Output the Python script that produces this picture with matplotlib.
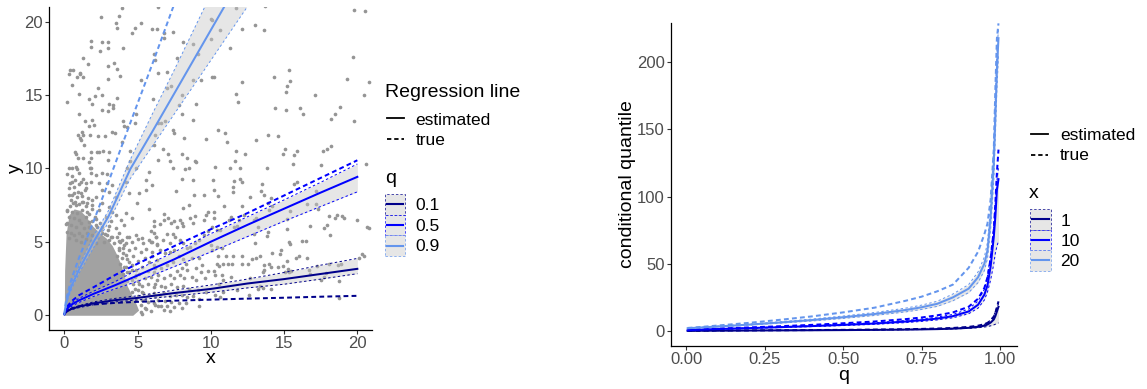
import matplotlib
matplotlib.use("Agg")
import matplotlib.pyplot as plt
from matplotlib.lines import Line2D
from matplotlib.patches import Rectangle

plt.rcParams["font.family"] = ["Liberation Sans", "DejaVu Sans"]

W, H = 1147, 389

# ---------------- left panel: scatter ----------------
# dense cloud near the origin (outline of the solid grey area)
cloud_x = [0.03, 4.7, 5.1, 4.9, 4.6, 4.3, 4.1, 3.9, 3.6, 3.3, 2.9, 2.4, 1.9, 1.5, 1.1, 0.7, 0.35, 0.15, 0.05]
cloud_y = [-0.05, -0.05, 0.3, 0.8, 1.4, 2.0, 2.7, 3.4, 4.1, 4.7, 5.2, 5.6, 6.1, 6.7, 7.1, 7.2, 6.8, 5.5, 3.0]

points_fringe = [
    (5.3, 0.1), (5.6, 0.4), (5.2, 0.7), (5.5, 1.0), (5.0, 1.3), (5.3, 1.6), (4.8, 1.8), (5.1, 2.1), (4.6, 2.4),
    (4.9, 2.7), (4.3, 2.9), (4.6, 3.1), (4.1, 3.3), (4.4, 3.6), (3.9, 3.9), (4.2, 4.1), (3.7, 4.4), (4.0, 4.6),
    (3.4, 4.9), (3.8, 5.0), (3.2, 5.3), (2.8, 5.5), (3.0, 5.8), (2.5, 5.8), (2.2, 6.0), (2.4, 6.3), (1.9, 6.4),
    (2.1, 6.7), (1.7, 6.9), (1.9, 7.2), (1.5, 7.4), (1.3, 7.7), (1.0, 7.6), (0.7, 7.7), (0.4, 7.4), (0.2, 7.1),
    (0.1, 6.2), (1.6, 8.0), (1.2, 8.1), (0.9, 8.4), (0.5, 8.2), (1.4, 8.5), (1.0, 8.9), (0.7, 9.2), (1.3, 9.3),
    (0.4, 9.0),
]

points_top_left = [
    (3.9, 20.9), (6.4, 21.0), (2.5, 20.3), (3.7, 20.4), (3.5, 19.9), (3.6, 19.6), (5.2, 19.9), (4.8, 19.6),
    (4.6, 19.2), (6.0, 19.5), (6.3, 19.5), (7.4, 19.3), (1.8, 18.7), (2.6, 18.6), (3.0, 18.6), (1.8, 18.3),
    (2.4, 18.0), (3.0, 18.2), (4.0, 18.2), (6.8, 19.2), (6.8, 18.9), (6.1, 17.8), (6.2, 17.4), (7.7, 17.5),
    (8.1, 18.6), (8.8, 18.5), (9.1, 17.8), (10.0, 20.2), (1.3, 17.5), (1.6, 17.1), (3.0, 17.0), (3.4, 17.2),
    (3.6, 16.8), (0.35, 16.7), (0.6, 16.7), (0.3, 16.4), (1.05, 16.5), (1.1, 16.4), (0.85, 16.2), (1.3, 16.2),
    (3.8, 16.3), (3.0, 16.1), (6.4, 16.5), (7.0, 16.6), (0.5, 15.7), (2.3, 15.5), (1.0, 15.1), (2.6, 15.0),
    (2.1, 14.9), (1.7, 14.7), (0.2, 14.5), (1.9, 14.4), (3.6, 14.8), (3.05, 14.4), (3.3, 14.3), (3.35, 14.1),
    (3.0, 13.9), (2.6, 13.95), (5.2, 16.0), (7.0, 15.5), (7.3, 15.6), (8.05, 15.0), (8.8, 16.0), (9.3, 16.0),
    (10.1, 16.2), (6.05, 14.7), (9.0, 14.4), (1.0, 13.7), (1.4, 13.2), (1.9, 13.3), (2.0, 12.95), (1.7, 12.9),
    (4.0, 13.2), (4.1, 12.9), (4.9, 13.7), (4.8, 13.1), (3.25, 12.5), (3.45, 12.4), (4.3, 12.8), (6.9, 13.2),
    (6.6, 13.1), (6.4, 13.1), (7.4, 12.6), (7.45, 12.4), (0.9, 12.3), (1.2, 12.45), (1.3, 12.3), (1.05, 12.05),
    (1.15, 11.9), (1.75, 12.25), (2.3, 12.2), (2.8, 12.2), (3.9, 11.8), (6.2, 12.3), (8.15, 12.05), (9.7, 12.0),
    (8.8, 13.3), (7.85, 14.3), (8.05, 13.7), (1.35, 11.6), (0.7, 11.1), (0.8, 11.0), (1.85, 11.1), (2.2, 11.1),
    (2.35, 11.1), (2.65, 11.2), (3.05, 11.1), (4.5, 11.2), (6.1, 11.6), (6.75, 11.3), (7.1, 10.95), (8.05, 11.0),
    (8.35, 10.7), (0.9, 10.7), (1.3, 10.7), (1.8, 10.7), (1.65, 10.4), (3.0, 10.6), (4.45, 10.5), (6.4, 10.6),
    (7.2, 10.5), (8.9, 10.5), (9.0, 10.45), (0.55, 10.0), (0.8, 10.1), (0.85, 9.95), (1.75, 10.0), (4.3, 10.0),
    (4.9, 10.05), (7.4, 10.05), (8.5, 10.05),
]

points_top_right = [
    (11.7, 20.95), (13.7, 21.05), (19.8, 20.8), (20.5, 20.7), (10.1, 20.1), (10.6, 19.4), (12.1, 19.5),
    (13.0, 19.8), (13.6, 19.4), (10.0, 18.8), (11.3, 18.2), (19.7, 17.6), (10.2, 16.2), (12.1, 15.9),
    (14.3, 16.2), (15.3, 16.7), (15.4, 15.95), (15.2, 15.6), (15.1, 15.2), (11.7, 15.1), (11.85, 14.5),
    (17.1, 15.0), (19.3, 16.1), (20.8, 15.9), (20.45, 15.0), (14.4, 14.1), (15.1, 13.95), (16.1, 14.1),
    (16.3, 13.7), (18.8, 14.2), (18.45, 13.7), (18.2, 13.35), (19.8, 13.25), (10.5, 12.6), (10.95, 12.4),
    (11.1, 11.8), (13.9, 12.3), (14.6, 12.2), (13.05, 11.9), (11.7, 11.2), (12.3, 10.95), (15.05, 11.3),
    (14.95, 10.95), (15.85, 11.2), (15.7, 10.9), (18.2, 11.5), (17.9, 11.35), (17.65, 11.2), (11.65, 10.5),
    (11.3, 10.05), (12.0, 10.0), (10.3, 10.1), (13.8, 10.0), (15.6, 10.3), (17.5, 10.25), (20.6, 10.3),
]

points_bottom_right = [
    (10.15, 9.2), (10.2, 8.5), (11.55, 9.15), (12.0, 9.25), (12.15, 9.05), (11.5, 8.7), (11.5, 8.4), (10.5, 8.1),
    (13.5, 8.9), (13.4, 8.45), (13.6, 8.2), (12.65, 8.05), (10.9, 7.45), (12.1, 7.4), (14.1, 7.95), (13.9, 7.65),
    (14.15, 7.4), (15.7, 8.9), (15.85, 9.1), (17.2, 8.45), (14.0, 7.15), (10.2, 7.05), (10.2, 6.6), (12.25, 6.8),
    (11.4, 6.65), (11.25, 6.5), (11.95, 6.45), (11.6, 6.0), (11.8, 6.05), (12.95, 6.45), (13.1, 6.6), (13.25, 6.0),
    (15.4, 7.1), (15.2, 6.55), (16.55, 7.55), (17.2, 7.55), (17.3, 7.2), (18.05, 6.75), (18.6, 6.8), (18.5, 6.6),
    (18.95, 6.75), (19.1, 6.6), (20.0, 6.5), (17.95, 6.15), (17.75, 5.9), (16.75, 6.05), (15.2, 5.85), (18.1, 5.45),
    (13.9, 5.65), (12.95, 5.5), (13.85, 5.4), (13.0, 4.9), (15.35, 4.95), (15.4, 4.85), (16.25, 5.05), (16.5, 5.05),
    (10.1, 6.0), (10.4, 5.8), (10.65, 5.8), (10.0, 4.75), (10.45, 4.65), (10.75, 4.6), (10.05, 4.4), (10.5, 4.05),
    (11.0, 4.0), (11.5, 4.0), (10.45, 3.5), (10.55, 3.35), (10.2, 3.0), (10.25, 2.7), (10.8, 3.5), (11.2, 3.5),
    (11.45, 3.5), (12.15, 4.0), (12.1, 3.45), (12.55, 3.5), (12.8, 3.85), (13.05, 3.9), (13.35, 4.0), (14.2, 4.2),
    (14.75, 4.15), (14.8, 4.4), (15.2, 3.7), (15.8, 3.9), (16.0, 4.05), (16.55, 3.9), (13.6, 3.4), (13.65, 3.1),
    (13.55, 2.95), (14.0, 3.5), (14.1, 3.3), (14.6, 3.3), (14.95, 3.35), (15.25, 3.15), (15.35, 2.9), (15.5, 3.0),
    (15.05, 2.95), (16.7, 3.05), (16.75, 2.8), (17.25, 3.35), (18.05, 3.45), (18.7, 3.4), (18.9, 3.5), (17.55, 2.4),
    (17.75, 2.6), (17.85, 2.85), (18.75, 2.3), (12.65, 2.5), (10.75, 2.7), (11.4, 2.6), (10.85, 2.4), (10.55, 2.15),
    (11.75, 1.7), (10.25, 1.35), (10.6, 1.25), (13.25, 1.8), (13.35, 2.0), (13.55, 1.85), (14.1, 1.75), (18.75, 1.15),
    (20.3, 4.15), (20.45, 4.05), (20.1, 3.9), (20.65, 6.0), (20.8, 5.95), (12.6, 1.4), (10.85, 1.55),
]

points_mid_left = [
    (0.32, 10.0), (1.8, 10.0), (0.21, 9.61), (0.55, 9.48), (1.01, 9.66), (1.8, 9.7), (2.14, 9.55), (2.6, 9.66),
    (2.94, 9.61), (5.78, 9.77), (0.55, 9.09), (1.12, 9.09), (1.46, 8.98), (1.8, 9.09), (2.37, 8.98), (2.94, 8.98),
    (3.28, 8.86), (4.19, 9.09), (5.55, 9.2), (6.0, 8.86), (0.32, 8.64), (0.66, 8.75), (1.46, 8.64), (2.6, 8.52),
    (3.05, 8.41), (5.55, 8.52), (0.32, 8.18), (0.66, 8.3), (0.89, 8.07), (1.12, 8.3), (1.91, 7.84), (2.14, 8.07),
    (3.51, 8.07), (4.41, 8.3), (5.1, 8.3), (0.44, 7.84), (0.6, 7.61), (0.78, 7.5), (1.23, 7.73), (1.57, 7.61),
    (1.91, 7.5), (2.6, 7.66), (3.05, 7.39), (4.98, 7.61), (5.78, 7.2), (0.21, 7.16), (0.55, 7.05), (0.89, 6.93),
    (1.23, 7.16), (1.57, 7.05), (2.37, 7.16), (3.28, 7.05), (3.51, 6.82), (4.19, 6.93), (4.64, 6.59), (0.32, 6.7),
    (0.66, 6.59), (1.01, 6.48), (1.46, 6.7), (1.69, 6.36), (2.14, 6.52), (2.82, 6.7), (3.16, 6.43), (3.85, 6.48),
    (0.21, 6.25), (0.44, 6.14), (0.78, 6.02), (1.12, 6.25), (1.35, 5.91), (1.69, 6.02), (2.14, 6.14), (2.6, 6.02),
    (3.05, 6.07), (3.51, 5.91), (4.07, 6.14), (0.21, 5.68), (0.44, 5.57), (0.66, 5.45), (1.01, 5.61), (1.23, 5.39),
    (1.57, 5.57), (1.91, 5.45), (2.26, 5.34), (2.6, 5.57), (2.94, 5.45), (3.28, 5.3), (3.73, 5.57), (4.41, 5.34),
    (4.87, 5.45), (5.32, 5.23), (5.78, 5.11), (6.23, 5.3), (0.32, 5.23), (0.78, 5.11), (1.12, 5.0), (1.46, 5.16),
    (1.8, 5.07), (2.14, 4.93), (2.71, 5.0), (3.05, 5.11), (3.73, 5.07), (4.19, 4.93),
    (8.25, 9.95), (8.0, 9.3), (8.8, 9.2), (8.85, 8.2), (9.5, 8.15), (7.65, 8.45),
]

points_mid_bottom = [
    (8.1, 7.3), (8.5, 7.5), (6.8, 6.9), (6.1, 6.4), (6.1, 6.1), (6.5, 6.2), (6.8, 6.5), (7.1, 6.6), (7.3, 6.3),
    (7.5, 6.4), (7.9, 6.5), (8.0, 6.3), (7.7, 6.0), (8.1, 6.1), (8.6, 6.6), (8.9, 6.75), (8.8, 6.3), (9.5, 6.5),
    (9.7, 6.8), (9.8, 7.0), (5.9, 5.7), (6.1, 5.6), (6.25, 5.3), (5.95, 5.0), (6.3, 4.8), (6.75, 5.1), (7.0, 5.5),
    (7.4, 5.5), (7.55, 5.3), (7.2, 4.9), (7.9, 5.1), (8.1, 4.9), (8.35, 4.55), (8.6, 4.65), (8.9, 4.9), (9.2, 5.1),
    (9.5, 5.45), (9.8, 5.7), (6.5, 4.4), (6.9, 4.2), (7.2, 4.3), (7.5, 4.4), (7.8, 4.0), (8.1, 3.8), (8.3, 3.5),
    (8.0, 3.2), (8.7, 3.9), (9.2, 3.9), (9.4, 3.4), (6.0, 4.0), (6.3, 3.75), (6.1, 3.4), (6.6, 3.2), (7.0, 3.4),
    (7.4, 3.6), (7.7, 3.0), (8.4, 3.1), (9.0, 3.2), (9.3, 2.9), (9.8, 3.0), (6.1, 2.9), (6.4, 2.7), (6.8, 2.5),
    (7.2, 2.7), (7.5, 2.5), (7.9, 2.7), (8.2, 2.5), (8.7, 2.6), (9.0, 2.4), (9.6, 2.5), (6.2, 2.1), (6.6, 2.0),
    (6.9, 1.9), (7.3, 2.1), (7.7, 1.9), (8.1, 2.0), (8.5, 1.8), (9.1, 1.7), (9.7, 1.6), (6.1, 1.5), (6.5, 1.4),
    (6.8, 1.5), (7.2, 1.3), (7.6, 1.4), (8.0, 1.35), (8.4, 1.2), (8.8, 1.3), (9.2, 1.1), (6.4, 1.0), (6.9, 0.95),
    (7.3, 0.9), (7.8, 0.85), (8.3, 0.8), (9.2, 0.6), (6.6, 0.6), (7.0, 0.65), (7.5, 0.55), (8.0, 0.5), (6.2, 0.7),
    (3.6, 5.3), (3.9, 5.1), (4.3, 5.35), (4.6, 5.0), (5.0, 5.2), (5.4, 4.9), (5.9, 5.0), (6.3, 4.85), (3.7, 4.6),
    (4.1, 4.8), (4.4, 4.4), (4.8, 4.6), (5.2, 4.3), (5.6, 4.5), (6.0, 4.3), (3.6, 4.0), (4.0, 4.2), (4.3, 3.8),
    (4.7, 4.0), (5.0, 3.7), (5.5, 3.9), (5.8, 3.6), (3.8, 3.5), (4.2, 3.3), (4.6, 3.4), (4.9, 3.1), (5.3, 3.3),
    (5.7, 3.0), (6.2, 3.2), (4.0, 2.8), (4.4, 2.9), (4.8, 2.6), (5.1, 2.8), (5.5, 2.5), (5.9, 2.6), (6.3, 2.4),
    (4.3, 2.3), (4.7, 2.1), (5.0, 2.3), (5.3, 2.0), (5.7, 2.1), (6.1, 1.9), (4.6, 1.6), (5.0, 1.7), (5.4, 1.5),
    (5.8, 1.4), (6.2, 1.3), (4.9, 1.1), (5.3, 1.0), (5.7, 0.9), (6.1, 0.8), (5.5, 0.5), (5.9, 0.3), (6.4, 0.6),
    (6.8, 0.35), (7.2, 0.3), (5.2, 0.2),
]

# ---------------- left panel: regression lines ----------------
q_labels = ["0.1", "0.5", "0.9"]
q_colors = ["#00008B", "#0000FF", "#6495ED"]

x_grid = [0, 0.1, 0.25, 0.5, 1, 2, 3.5, 5, 7.5, 10, 12.5, 15, 17.5, 20]
est_q10 = [0.05, 0.2, 0.3, 0.42, 0.57, 0.8, 1.02, 1.17, 1.5, 1.78, 2.15, 2.45, 2.8, 3.15]
true_q10 = [0.05, 0.2, 0.3, 0.45, 0.6, 0.72, 0.83, 0.9, 0.98, 1.05, 1.12, 1.18, 1.25, 1.31]
lo_q10 = [0.05, 0.17, 0.26, 0.37, 0.5, 0.7, 0.9, 1.03, 1.3, 1.55, 1.85, 2.1, 2.45, 2.82]
hi_q10 = [0.05, 0.23, 0.34, 0.47, 0.64, 0.9, 1.14, 1.31, 1.7, 2.05, 2.45, 2.9, 3.4, 3.86]

est_q50 = [0.05, 0.3, 0.5, 0.72, 1.0, 1.45, 2.05, 2.7, 3.8, 5.0, 6.15, 7.25, 8.35, 9.42]
true_q50 = [0.05, 0.4, 0.65, 0.95, 1.35, 1.9, 2.75, 3.5, 4.7, 5.85, 6.95, 8.15, 9.35, 10.55]
lo_q50 = [0.05, 0.25, 0.42, 0.6, 0.86, 1.27, 1.8, 2.3, 3.3, 4.3, 5.35, 6.4, 7.4, 8.4]
hi_q50 = [0.05, 0.35, 0.58, 0.84, 1.14, 1.63, 2.3, 3.1, 4.3, 5.55, 6.7, 7.85, 9.05, 10.3]

x_grid_q90 = [0, 0.1, 0.25, 0.5, 1, 2, 3, 4.5, 6, 7.5, 9, 10.5, 12, 13.5]
est_q90 = [0.05, 0.7, 1.3, 2.0, 3.1, 5.0, 6.7, 9.95, 12.5, 15.1, 17.7, 20.3, 22.9, 25.5]
true_q90 = [0.05, 0.9, 1.6, 2.5, 3.9, 6.4, 9.05, 13.1, 17.1, 21.2, 25.2, 29.2, 33.2, 37.2]
lo_q90 = [0.05, 0.6, 1.15, 1.8, 2.85, 4.6, 6.3, 9.3, 11.5, 13.7, 15.9, 18.1, 20.3, 22.5]
hi_q90 = [0.05, 0.8, 1.45, 2.2, 3.35, 5.4, 7.1, 10.6, 13.7, 16.7, 19.8, 22.9, 26.0, 29.0]

# ---------------- right panel: conditional quantiles ----------------
x_labels = ["1", "10", "20"]
q_grid = [0.005, 0.05, 0.1, 0.2, 0.3, 0.4, 0.5, 0.6, 0.7, 0.75, 0.8, 0.85, 0.9, 0.93, 0.95,
          0.96, 0.97, 0.98, 0.985, 0.99, 0.995]
est_x1 = [0.05, 0.15, 0.2, 0.3, 0.4, 0.5, 0.62, 0.78, 1.0, 1.15, 1.35, 1.7, 2.3, 3.0, 3.9, 4.8, 6.2, 8.5, 11, 14.5, 18]
true_x1 = [0.06, 0.18, 0.25, 0.38, 0.5, 0.64, 0.8, 1.0, 1.3, 1.5, 1.8, 2.2, 3.0, 3.9, 5.0, 6.0, 7.6, 10.5, 13.5, 17.5, 22]
lo_x1 = [0.04, 0.12, 0.17, 0.26, 0.35, 0.44, 0.55, 0.69, 0.88, 1.0, 1.17, 1.45, 1.9, 2.4, 2.9, 3.3, 3.8, 4.5, 5.0, 5.5, 6.0]
hi_x1 = [0.06, 0.18, 0.23, 0.34, 0.45, 0.56, 0.7, 0.88, 1.12, 1.3, 1.53, 1.95, 2.7, 3.6, 4.9, 6.1, 8.2, 11.5, 14.5, 18, 20]

est_x10 = [0.5, 1.0, 1.4, 2.1, 2.8, 3.6, 4.5, 5.5, 7.0, 8.0, 9.2, 11, 14.5, 19.5, 27, 34, 48, 70, 85, 105, 113]
true_x10 = [0.6, 1.2, 1.7, 2.6, 3.5, 4.5, 5.7, 7.0, 8.8, 10.0, 11.6, 13.8, 18, 24, 32, 40, 54, 75, 95, 118, 135]
lo_x10 = [0.4, 0.85, 1.2, 1.85, 2.5, 3.2, 4.0, 4.9, 6.2, 7.1, 8.2, 9.8, 12.8, 17, 23, 29, 38, 50, 58, 63, 67]
hi_x10 = [0.6, 1.15, 1.6, 2.35, 3.1, 4.0, 5.0, 6.1, 7.8, 8.9, 10.3, 12.3, 16.3, 22.3, 31, 41, 57, 78, 96, 112, 122]

est_x20 = [2.0, 2.6, 3.3, 4.7, 6.3, 8.1, 10.2, 12.6, 15.6, 17.6, 20.2, 25, 31.5, 40, 50, 60, 85, 125, 160, 195, 218]
true_x20 = [2.2, 3.0, 4.0, 6.0, 8.3, 10.8, 13.8, 17.3, 22.5, 25.5, 29.5, 34.5, 47, 59, 72, 80, 98, 135, 180, 218, 229]
lo_x20 = [1.8, 2.4, 3.0, 4.3, 5.8, 7.4, 9.3, 11.5, 14.2, 16.0, 18.3, 22.5, 28.5, 36, 45, 54, 76, 112, 145, 180, 205]
hi_x20 = [2.2, 2.8, 3.6, 5.1, 6.8, 8.8, 11.1, 13.7, 17.0, 19.2, 22.1, 27.5, 34.5, 44, 55, 66, 94, 138, 175, 210, 225]

POINT_COLOR = "#959595"
CLOUD_COLOR = "#a2a2a2"
RIBBON = "#c8c8c8"
TICK_COLOR = "#4d4d4d"
DASH_TRUE = (2.4, 1.6)
DASH_EDGE = (2.5, 2.5)


def fx(px):
    return px / W


def fy(py):
    return 1 - py / H


def style_axis(ax):
    for side in ("top", "right"):
        ax.spines[side].set_visible(False)
    for side in ("left", "bottom"):
        ax.spines[side].set_linewidth(0.9)
        ax.spines[side].set_color("black")
    ax.tick_params(direction="out", length=2.6, width=0.8, color="#333333",
                   labelcolor=TICK_COLOR, labelsize=12, pad=1.8)


def draw_band(ax, x, est, true, lo, hi, color):
    ax.fill_between(x, lo, hi, color=RIBBON, alpha=0.45, linewidth=0, zorder=3)
    ax.plot(x, lo, color=color, lw=0.7, dashes=DASH_EDGE, zorder=4)
    ax.plot(x, hi, color=color, lw=0.7, dashes=DASH_EDGE, zorder=4)
    ax.plot(x, true, color=color, lw=1.45, dashes=DASH_TRUE, zorder=5)
    ax.plot(x, est, color=color, lw=1.45, zorder=6)


def fig_line(fig, x0, x1, y, color, dashed=False, lw=1.3):
    ln = Line2D([fx(x0), fx(x1)], [fy(y), fy(y)], transform=fig.transFigure,
                color=color, lw=lw)
    if dashed:
        ln.set_dashes(DASH_TRUE)
    fig.add_artist(ln)


def fig_key_box(fig, x0, y0, x1, y1, color):
    rect = Rectangle((fx(x0), fy(y1)), fx(x1) - fx(x0), fy(y0) - fy(y1),
                     transform=fig.transFigure, facecolor="#dcdcdc", alpha=0.7,
                     edgecolor=color, lw=0.7, linestyle=(0, (2.5, 2.0)))
    fig.add_artist(rect)
    fig_line(fig, x0 + 2, x1 - 2, (y0 + y1) / 2, color, lw=1.5)


def main():
    fig = plt.figure(figsize=(W / 100, H / 100), dpi=100)

    # left panel
    ax1 = fig.add_axes([fx(49), fy(330), 323 / W, 323 / H])
    ax1.fill(cloud_x, cloud_y, color=CLOUD_COLOR, lw=0, zorder=1)
    all_pts = (points_fringe + points_top_left + points_top_right + points_bottom_right
               + points_mid_left + points_mid_bottom)
    ax1.scatter([p[0] for p in all_pts], [p[1] for p in all_pts], s=7,
                color=POINT_COLOR, linewidths=0, zorder=2)
    draw_band(ax1, x_grid, est_q10, true_q10, lo_q10, hi_q10, q_colors[0])
    draw_band(ax1, x_grid, est_q50, true_q50, lo_q50, hi_q50, q_colors[1])
    draw_band(ax1, x_grid_q90, est_q90, true_q90, lo_q90, hi_q90, q_colors[2])
    ax1.set_xlim(-1.05, 21.0)
    ax1.set_ylim(-1.02, 21.0)
    ax1.set_xticks([0, 5, 10, 15, 20])
    ax1.set_yticks([0, 5, 10, 15, 20])
    style_axis(ax1)

    # right panel
    ax2 = fig.add_axes([fx(670.7), fy(345.7), 346 / W, 323 / H])
    draw_band(ax2, q_grid, est_x1, true_x1, lo_x1, hi_x1, q_colors[0])
    draw_band(ax2, q_grid, est_x10, true_x10, lo_x10, hi_x10, q_colors[1])
    draw_band(ax2, q_grid, est_x20, true_x20, lo_x20, hi_x20, q_colors[2])
    ax2.set_xlim(-0.049, 1.053)
    ax2.set_ylim(-11, 229.5)
    ax2.set_xticks([0, 0.25, 0.5, 0.75, 1.0])
    ax2.set_xticklabels(["0.00", "0.25", "0.50", "0.75", "1.00"])
    ax2.set_yticks([0, 50, 100, 150, 200])
    style_axis(ax2)

    # axis titles
    fig.text(fx(210.5), fy(363), "x", ha="center", va="baseline", fontsize=14)
    fig.text(fx(15), fy(168), "y", ha="center", va="center", rotation=90, fontsize=14)
    fig.text(fx(844), fy(380), "q", ha="center", va="baseline", fontsize=14)
    fig.text(fx(627), fy(184), "conditional quantile", ha="center", va="center",
             rotation=90, fontsize=14)

    # left legends
    fig.text(fx(385), fy(97), "Regression line", ha="left", va="baseline", fontsize=14)
    fig_line(fig, 387, 404, 118, "black")
    fig.text(fx(415.5), fy(125), "estimated", ha="left", va="baseline", fontsize=12.5)
    fig_line(fig, 387, 404, 139, "black", dashed=True)
    fig.text(fx(415.5), fy(145), "true", ha="left", va="baseline", fontsize=12.5)
    fig.text(fx(385), fy(183), "q", ha="left", va="baseline", fontsize=14)
    for i, (lab, col) in enumerate(zip(q_labels, q_colors)):
        y0 = 194 + i * 20.7
        fig_key_box(fig, 385, y0, 405, y0 + 20.7, col)
        fig.text(fx(415.5), fy(y0 + 16), lab, ha="left", va="baseline", fontsize=12.5)

    # right legends
    fig_line(fig, 1030.5, 1048, 134, "black")
    fig.text(fx(1060), fy(140.5), "estimated", ha="left", va="baseline", fontsize=12.5)
    fig_line(fig, 1030.5, 1048, 155, "black", dashed=True)
    fig.text(fx(1060), fy(160.5), "true", ha="left", va="baseline", fontsize=12.5)
    fig.text(fx(1029), fy(198), "x", ha="left", va="baseline", fontsize=14)
    for i, (lab, col) in enumerate(zip(x_labels, q_colors)):
        y0 = 209 + i * 20.5
        fig_key_box(fig, 1029.5, y0, 1050.5, y0 + 20.5, col)
        fig.text(fx(1060.5), fy(y0 + 16.5), lab, ha="left", va="baseline", fontsize=12.5)

    fig.savefig("out.png", dpi=100)
    plt.close(fig)


if __name__ == "__main__":
    main()
